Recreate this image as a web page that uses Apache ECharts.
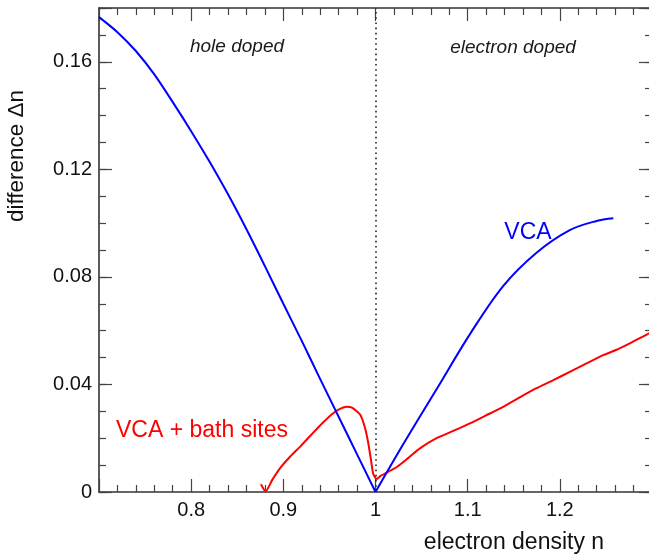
<!DOCTYPE html>
<html>
<head>
<meta charset="utf-8">
<script src="https://cdn.jsdelivr.net/npm/echarts@6/dist/echarts.min.js"></script>
<style>
  html, body { margin: 0; padding: 0; background: #fff; }
  #chart { width: 649px; height: 556px; }
</style>
</head>
<body>
<div id="chart"></div>
<script>
// ---- data ----
const vcaX = [0.700, 0.720, 0.740, 0.760, 0.780, 0.800, 0.820, 0.840, 0.860, 0.880, 0.900, 0.920, 0.940, 0.960, 0.980, 1.000,
              1.0307, 1.0669, 1.1030, 1.1385, 1.1747, 1.2108, 1.2398, 1.2580];
const vcaY = [0.1766, 0.1710, 0.1640, 0.1553, 0.1450, 0.1342, 0.1228, 0.1107, 0.0977, 0.0840, 0.0700, 0.0562, 0.0420, 0.0280, 0.0140, 0.0000,
              0.0181, 0.0386, 0.0590, 0.0766, 0.0890, 0.0974, 0.1008, 0.1018];

const bathX = [0.8757, 0.8808, 0.8880, 0.8963, 0.9070, 0.9180, 0.9300, 0.9420, 0.9541, 0.9620, 0.9686, 0.9750, 0.9833, 0.9885, 0.9920, 0.9955, 0.9975, 1.0011,
               1.0054, 1.0090, 1.0235, 1.0350, 1.0482, 1.0662, 1.0850, 1.1024, 1.1200, 1.1385, 1.1560, 1.1747, 1.1930, 1.2108, 1.2290, 1.2470, 1.2610, 1.2759, 1.2900, 1.3000];
const bathY = [0.0029, 0.0002, 0.0045, 0.0088, 0.0130, 0.0168, 0.0212, 0.0255, 0.0293, 0.0310, 0.0317, 0.0313, 0.0288, 0.0240, 0.0185, 0.0110, 0.0068, 0.0048,
               0.0060, 0.0066, 0.0094, 0.0125, 0.0162, 0.0200, 0.0228, 0.0255, 0.0285, 0.0317, 0.0351, 0.0386, 0.0416, 0.0447, 0.0478, 0.0509, 0.0528, 0.0553, 0.0578, 0.0596];

const xTickValues = [0.8, 0.9, 1.0, 1.1, 1.2];
const xTickLabels = ['0.8', '0.9', '1', '1.1', '1.2'];
const yTickValues = [0, 0.04, 0.08, 0.12, 0.16];
const yTickLabels = ['0', '0.04', '0.08', '0.12', '0.16'];
const dividerX = 1.0;

const xTitle = 'electron density n';
const yTitle = 'difference \u0394n';
const holeText = 'hole doped';
const electronText = 'electron doped';
const vcaText = 'VCA';
const bathText = 'VCA + bath sites';

// ---- chart ----
const FONT = '"Liberation Sans", Arial, Helvetica, sans-serif';
const AXIS_COLOR = '#333';
const TICK_COLOR = '#444';

function pick(values, labels) {
  return function (v) {
    for (let i = 0; i < values.length; i++) {
      if (Math.abs(values[i] - v) < 1e-9) return labels[i];
    }
    return '';
  };
}

function xAxisDef(pos, showLabel) {
  return {
    type: 'value', position: pos, min: 0.7, max: 1.3, interval: 0.1,
    axisLine: { show: true, onZero: false, lineStyle: { color: AXIS_COLOR, width: 1.6 } },
    axisTick: { show: true, inside: true, length: 13, lineStyle: { color: TICK_COLOR, width: 1.2 } },
    minorTick: { show: true, splitNumber: 5, length: 7, lineStyle: { color: TICK_COLOR, width: 1.2 } },
    axisLabel: { show: showLabel, margin: 8, fontSize: 20, fontFamily: FONT, color: '#111',
                 formatter: pick(xTickValues, xTickLabels) },
    splitLine: { show: false }, minorSplitLine: { show: false }
  };
}

function yAxisDef(pos, interval, tickLen, showLine, showLabel) {
  return {
    type: 'value', position: pos, min: 0, max: 0.18, interval: interval,
    axisLine: { show: showLine, onZero: false, lineStyle: { color: AXIS_COLOR, width: 1.6 } },
    axisTick: { show: true, inside: true, length: tickLen, lineStyle: { color: TICK_COLOR, width: 1.2 } },
    axisLabel: { show: showLabel, margin: 7, fontSize: 20, fontFamily: FONT, color: '#111',
                 formatter: pick(yTickValues, yTickLabels) },
    splitLine: { show: false }
  };
}

// split the VCA curve into its two branches at the kink n = 1
const vcaPts = vcaX.map((x, i) => [x, vcaY[i]]);
const vcaLeft = vcaPts.filter(p => p[0] <= dividerX);
const vcaRight = vcaPts.filter(p => p[0] >= dividerX);

const chart = echarts.init(document.getElementById('chart'), null, { renderer: 'canvas' });

const option = {
  animation: false,
  backgroundColor: '#fff',
  grid: { left: 99, top: 8, width: 553, height: 484, containLabel: false, outerBoundsMode: 'none' },
  xAxis: [ xAxisDef('bottom', true), xAxisDef('top', false) ],
  yAxis: [
    yAxisDef('left', 0.04, 13, true, true),
    yAxisDef('right', 0.04, 13, true, false),
    yAxisDef('left', 0.01, 7, false, false),
    yAxisDef('right', 0.01, 7, false, false)
  ],
  series: [
    {
      name: bathText, type: 'line', xAxisIndex: 0, yAxisIndex: 0,
      data: bathX.map((x, i) => [x, bathY[i]]),
      showSymbol: false, smooth: 0.2,
      lineStyle: { color: '#ff0000', width: 2 },
      markLine: {
        silent: true, symbol: 'none', label: { show: false },
        lineStyle: { color: '#222', type: [1.6, 3.6], width: 1.6 },
        data: [ { xAxis: dividerX } ]
      },
      z: 2
    },
    {
      name: vcaText, type: 'line', xAxisIndex: 0, yAxisIndex: 0,
      data: vcaLeft,
      showSymbol: false, smooth: 0.3,
      lineStyle: { color: '#0000ff', width: 2 },
      z: 3
    },
    {
      name: vcaText, type: 'line', xAxisIndex: 0, yAxisIndex: 0,
      data: vcaRight,
      showSymbol: false, smooth: 0.35,
      lineStyle: { color: '#0000ff', width: 2 },
      z: 3
    }
  ],
  graphic: [
    { type: 'text', x: 237, y: 47, style: { text: holeText, fontSize: 19, fontStyle: 'italic', fontFamily: FONT, fill: '#1a1a1a', textAlign: 'center', textVerticalAlign: 'middle' } },
    { type: 'text', x: 513, y: 48, style: { text: electronText, fontSize: 19, fontStyle: 'italic', fontFamily: FONT, fill: '#1a1a1a', textAlign: 'center', textVerticalAlign: 'middle' } },
    { type: 'text', x: 528, y: 233, style: { text: vcaText, fontSize: 23, fontFamily: FONT, fill: '#0000ff', textAlign: 'center', textVerticalAlign: 'middle' } },
    { type: 'text', x: 202, y: 431, style: { text: bathText, fontSize: 23, fontFamily: FONT, fill: '#ff0000', textAlign: 'center', textVerticalAlign: 'middle' } },
    { type: 'text', x: 514, y: 543, style: { text: xTitle, fontSize: 23, fontFamily: FONT, fill: '#111', textAlign: 'center', textVerticalAlign: 'middle' } },
    { type: 'text', x: 17, y: 156, rotation: Math.PI / 2, style: { text: yTitle, fontSize: 22.5, fontFamily: FONT, fill: '#111', textAlign: 'center', textVerticalAlign: 'middle' } }
  ]
};

chart.setOption(option);
</script>
</body>
</html>
